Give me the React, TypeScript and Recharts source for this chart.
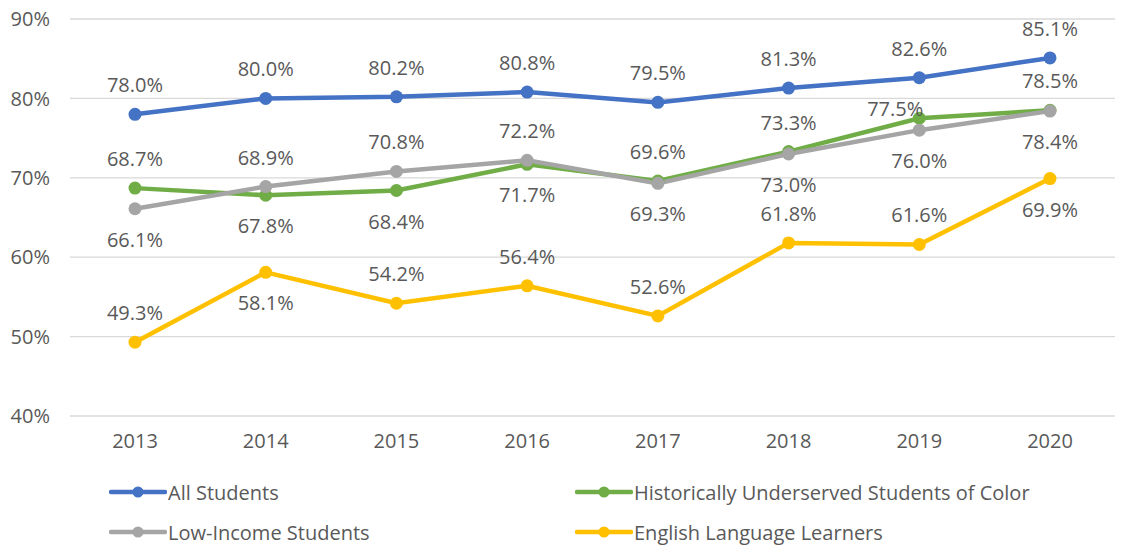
import { LineChart, Line, XAxis, YAxis, CartesianGrid } from "recharts";

const years = ["2013", "2014", "2015", "2016", "2017", "2018", "2019", "2020"];
const allStudents = [78.0, 80.0, 80.2, 80.8, 79.5, 81.3, 82.6, 85.1];
const underserved = [68.7, 67.8, 68.4, 71.7, 69.6, 73.3, 77.5, 78.5];
const lowIncome = [66.1, 68.9, 70.8, 72.2, 69.3, 73.0, 76.0, 78.4];
const ellStudents = [49.3, 58.1, 54.2, 56.4, 52.6, 61.8, 61.6, 69.9];
const yTicks = [40, 50, 60, 70, 80, 90];

// where each data label sits: a = above, b = below, l = left of the point
const allPlace = ["a", "a", "a", "a", "a", "a", "a", "a"];
const underPlace = ["a", "b", "b", "b", "a", "a", "l", "a"];
const lowPlace = ["b", "a", "a", "a", "b", "b", "b", "b"];
const ellPlace = ["a", "b", "a", "a", "a", "a", "a", "b"];

const TEXT = "#595959";
const FONT = "'Open Sans', Lato, sans-serif";
const FS = 20;

const series = [
  { key: "all", name: "All Students", color: "#4472C4", place: allPlace },
  { key: "under", name: "Historically Underserved Students of Color", color: "#70AD47", place: underPlace },
  { key: "low", name: "Low-Income Students", color: "#A5A5A5", place: lowPlace },
  { key: "ell", name: "English Language Learners", color: "#FFC000", place: ellPlace },
];

const data = years.map((year, i) => ({
  year,
  all: allStudents[i],
  under: underserved[i],
  low: lowIncome[i],
  ell: ellStudents[i],
}));

const OFFSETS: Record<string, [number, number, "middle" | "end"]> = {
  a: [0, -29, "middle"],
  b: [0, 31, "middle"],
  l: [4, -9, "end"],
};

function makeLabel(place: string[]) {
  return (props: any) => {
    const { x, y, value, index } = props;
    if (value == null) return null;
    const [dx, dy, anchor] = OFFSETS[place[index]] ?? OFFSETS.a;
    return (
      <text
        key={`lbl-${index}`}
        x={x + dx}
        y={y + dy + 7}
        textAnchor={anchor}
        fill={TEXT}
        fontSize={FS}
        fontFamily={FONT}
      >
        {Number(value).toFixed(1)}%
      </text>
    );
  };
}

function LegendIcon({ color }: { color: string }) {
  return (
    <svg width={58} height={14} style={{ display: "block" }}>
      <line x1={2} y1={7} x2={56} y2={7} stroke={color} strokeWidth={4.5} strokeLinecap="round" />
      <circle cx={29} cy={7} r={5.5} fill={color} />
    </svg>
  );
}

export default function App() {
  const rows = [
    { top: 492, items: [series[0], series[1]] },
    { top: 532, items: [series[2], series[3]] },
  ];
  const colX = [109, 575];

  return (
    <div
      style={{
        position: "absolute",
        left: 0,
        top: 0,
        width: 1122,
        height: 546,
        background: "#fff",
        fontFamily: FONT,
      }}
    >
      <LineChart
        width={1122}
        height={546}
        data={data}
        margin={{ top: 19, right: 7, left: 0, bottom: 100 }}
      >
        <CartesianGrid vertical={false} stroke="#D9D9D9" strokeWidth={1.3} />
        <XAxis
          dataKey="year"
          height={30}
          axisLine={false}
          tickLine={false}
          tickMargin={12}
          padding={{ left: 65, right: 65 }}
          tick={{ fill: TEXT, fontSize: FS, fontFamily: FONT }}
        />
        <YAxis
          width={70}
          domain={[40, 90]}
          ticks={yTicks}
          axisLine={false}
          tickLine={false}
          tickMargin={14}
          tickFormatter={(v: number) => `${v}%`}
          tick={{ fill: TEXT, fontSize: FS, fontFamily: FONT }}
        />
        {series.map((s) => (
          <Line
            key={s.key}
            dataKey={s.key}
            name={s.name}
            stroke={s.color}
            strokeWidth={4.5}
            dot={{ r: 6.5, fill: s.color, stroke: s.color, strokeWidth: 0 }}
            activeDot={false}
            label={makeLabel(s.place)}
            isAnimationActive={false}
          />
        ))}
      </LineChart>

      {rows.map((row, ri) =>
        row.items.map((s, ci) => (
          <div
            key={`${ri}-${ci}`}
            style={{
              position: "absolute",
              left: colX[ci],
              top: row.top - 14,
              height: 28,
              display: "flex",
              alignItems: "center",
              gap: 1,
              color: TEXT,
              fontSize: FS,
              whiteSpace: "nowrap",
            }}
          >
            <LegendIcon color={s.color} />
            <span>{s.name}</span>
          </div>
        ))
      )}
    </div>
  );
}
